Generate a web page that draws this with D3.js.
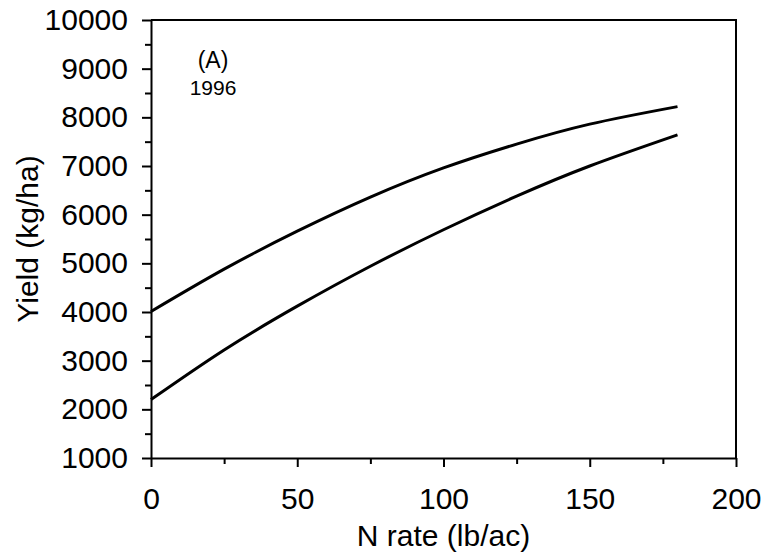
<!DOCTYPE html>
<html>
<head>
<meta charset="utf-8">
<script src="https://cdn.jsdelivr.net/npm/d3@7"></script>
<style>
  body { margin: 0; background: #fff; }
  svg text { font-family: "Liberation Sans", Arial, sans-serif; fill: #000; }
</style>
</head>
<body>
<svg id="chart"></svg>
<script>
// N rate (lb/ac)
const nRates = [0, 25, 50, 75, 100, 125, 150, 180];
// yield curves (kg/ha)
const upperYield = [4010, 4880, 5660, 6360, 6960, 7450, 7860, 8220];
const lowerYield = [2200, 3220, 4120, 4940, 5690, 6380, 7000, 7640];

const xTicks = [0, 50, 100, 150, 200];
const xMinorTicks = [25, 75, 125, 175];
const yTicks = [1000, 2000, 3000, 4000, 5000, 6000, 7000, 8000, 9000, 10000];
const yMinorTicks = [1500, 2500, 3500, 4500, 5500, 6500, 7500, 8500, 9500];

const W = 765, H = 557;
const margin = { top: 20, right: 29, bottom: 99, left: 151 };
const width = W - margin.left - margin.right;
const height = H - margin.top - margin.bottom;

const svg = d3.select("#chart").attr("width", W).attr("height", H);
const g = svg.append("g").attr("transform", `translate(${margin.left},${margin.top})`);

const x = d3.scaleLinear().domain([0, 200]).range([0, width]);
const y = d3.scaleLinear().domain([1000, 10000]).range([height, 0]);

// frame top and right
g.append("path")
    .attr("d", `M0,0H${width}V${height}`)
    .attr("fill", "none")
    .attr("stroke", "#000")
    .attr("stroke-width", 2);

// minor ticks
g.append("g")
    .attr("transform", `translate(0,${height})`)
    .call(d3.axisBottom(x).tickValues(xMinorTicks).tickSize(6).tickFormat(""))
    .call(a => a.select(".domain").remove())
    .call(a => a.selectAll("line").attr("stroke-width", 2));
g.append("g")
    .call(d3.axisLeft(y).tickValues(yMinorTicks).tickSize(6).tickFormat(""))
    .call(a => a.select(".domain").remove())
    .call(a => a.selectAll("line").attr("stroke-width", 2));

// major axes
const xAxis = g.append("g")
    .attr("transform", `translate(0,${height})`)
    .call(d3.axisBottom(x).tickValues(xTicks).tickFormat(d3.format("d"))
        .tickSize(9).tickSizeOuter(0).tickPadding(21));
const yAxis = g.append("g")
    .call(d3.axisLeft(y).tickValues(yTicks).tickFormat(d3.format("d"))
        .tickSize(9).tickSizeOuter(0).tickPadding(14));

[xAxis, yAxis].forEach(a => {
    a.selectAll("path, line").attr("stroke", "#000").attr("stroke-width", 2);
    a.selectAll("text").style("font-size", "30px").attr("fill", "#000")
        .style("font-family", "'Liberation Sans', Arial, sans-serif");
});

// curves
const line = d3.line()
    .x((d, i) => x(nRates[i]))
    .y(d => y(d))
    .curve(d3.curveNatural);

[upperYield, lowerYield].forEach(s => {
    g.append("path")
        .attr("d", line(s))
        .attr("fill", "none")
        .attr("stroke", "#000")
        .attr("stroke-width", 3);
});

// annotation
g.append("text").attr("x", 62).attr("y", 48)
    .attr("text-anchor", "middle").style("font-size", "23px").text("(A)");
g.append("text").attr("x", 62).attr("y", 75)
    .attr("text-anchor", "middle").style("font-size", "21px").text("1996");

// axis titles
svg.append("text")
    .attr("x", margin.left + width / 2).attr("y", 546)
    .attr("text-anchor", "middle").style("font-size", "30px")
    .text("N rate (lb/ac)");
svg.append("text")
    .attr("transform", `translate(38,${margin.top + height / 2}) rotate(-90)`)
    .attr("text-anchor", "middle").style("font-size", "30px")
    .text("Yield (kg/ha)");
</script>
</body>
</html>
